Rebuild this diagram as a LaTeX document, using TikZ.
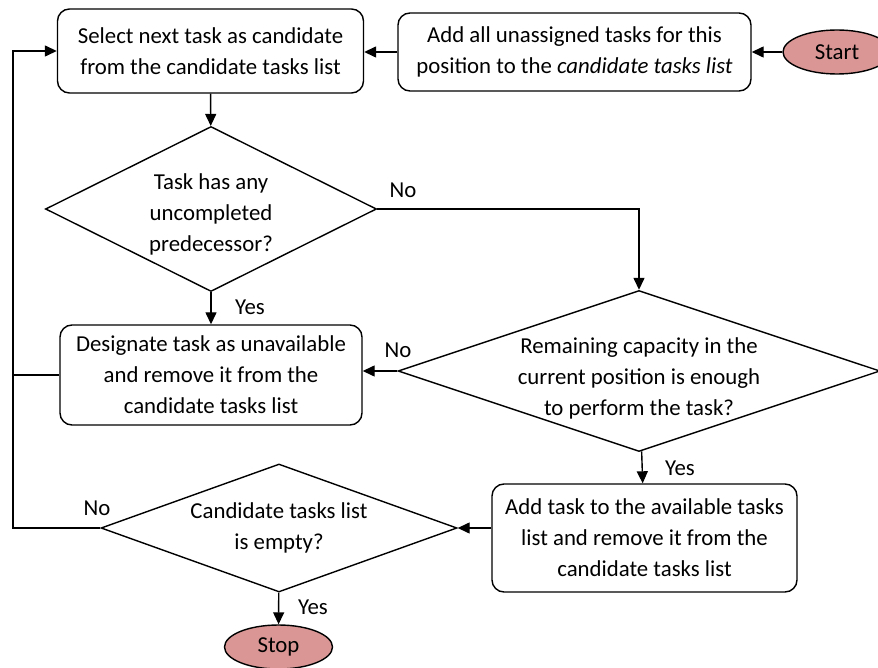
\documentclass[tikz,border=0pt]{standalone}
\usepackage{fontspec}
\setmainfont{Carlito}
\usetikzlibrary{shapes.geometric,arrows.meta}
\definecolor{termfill}{RGB}{217,150,148}
\tikzset{
  process/.style={draw, line width=1.4pt, rounded corners=12pt, align=center, inner sep=0pt},
  decision/.style={draw, diamond, line width=1.4pt, inner sep=0pt, aspect=2},
  terminal/.style={draw, ellipse, line width=1.4pt, fill=termfill, inner sep=0pt,
    minimum width=108pt, minimum height=44pt},
  dtext/.style={align=center, inner sep=0pt},
  answer/.style={inner sep=0pt},
  arr/.style={line width=1.4pt, -{Triangle[length=12pt,width=11pt]}},
  link/.style={line width=1.4pt}
}
\begin{document}
\begin{tikzpicture}
[x=1pt,y=-1pt,font=\fontsize{22.8}{31}\selectfont]
\useasboundingbox (0,0) rectangle (878,668);

% boxes
\node[process, minimum width=306pt, minimum height=84pt] (A) at (210.5,51)
  {Select next task as candidate\\from the candidate tasks list};
\node[process, minimum width=353pt, minimum height=78pt] (B) at (574.5,52)
  {Add all unassigned tasks for this\\position to the \textit{candidate tasks list}};
\node[terminal] (Start) at (837,52) {Start};
\node[process, minimum width=302pt, minimum height=100pt] (C) at (211,375)
  {Designate task as unavailable\\and remove it from the\\candidate tasks list};
\node[process, minimum width=305pt, minimum height=108pt] (D) at (644.5,538)
  {Add task to the available tasks\\list and remove it from the\\candidate tasks list};
\node[terminal] (Stop) at (278.5,647) {Stop};

% decisions
\node[decision, minimum width=331pt, minimum height=165pt] (d1) at (211,209) {};
\node[dtext] (t1) at (211,214) {Task has any\\uncompleted\\predecessor?};
\node[decision, minimum width=482pt, minimum height=161pt] (d2) at (639,371) {};
\node[dtext] (t2) at (639,378) {Remaining capacity in the\\current position is enough\\to perform the task?};
\node[decision, minimum width=356pt, minimum height=128pt] (d3) at (279,528) {};
\node[dtext] (t3) at (279,528) {Candidate tasks list\\is empty?};

% answers
\node[answer] (n1) at (403,190) {No};
\node[answer] (y1) at (250,307) {Yes};
\node[answer] (n2) at (398,350) {No};
\node[answer] (y2) at (680,468) {Yes};
\node[answer] (n3) at (97,508) {No};
\node[answer] (y3) at (313,607) {Yes};

\coordinate (back) at (13,0);

% connectors
\draw[arr] (Start) -- (B);
\draw[arr] (B.west) -- (B.west -| A.east);
\draw[arr] (A) -- (d1);
\draw[arr] (d1.east) -| (d2.north);
\draw[arr] (d1) -- (C);
\draw[arr] (d2.west) -- (d2.west -| C.east);
\draw[arr] (d2) -- (D);
\draw[arr] (D.west |- d3.east) -- (d3.east);
\draw[arr] (d3) -- (Stop);
\draw[arr] (d3.west) -- (d3.west -| back) -- (back |- A.west) -- (A.west);
\draw[link] (C.west) -- (C.west -| back);
\end{tikzpicture}
\end{document}
